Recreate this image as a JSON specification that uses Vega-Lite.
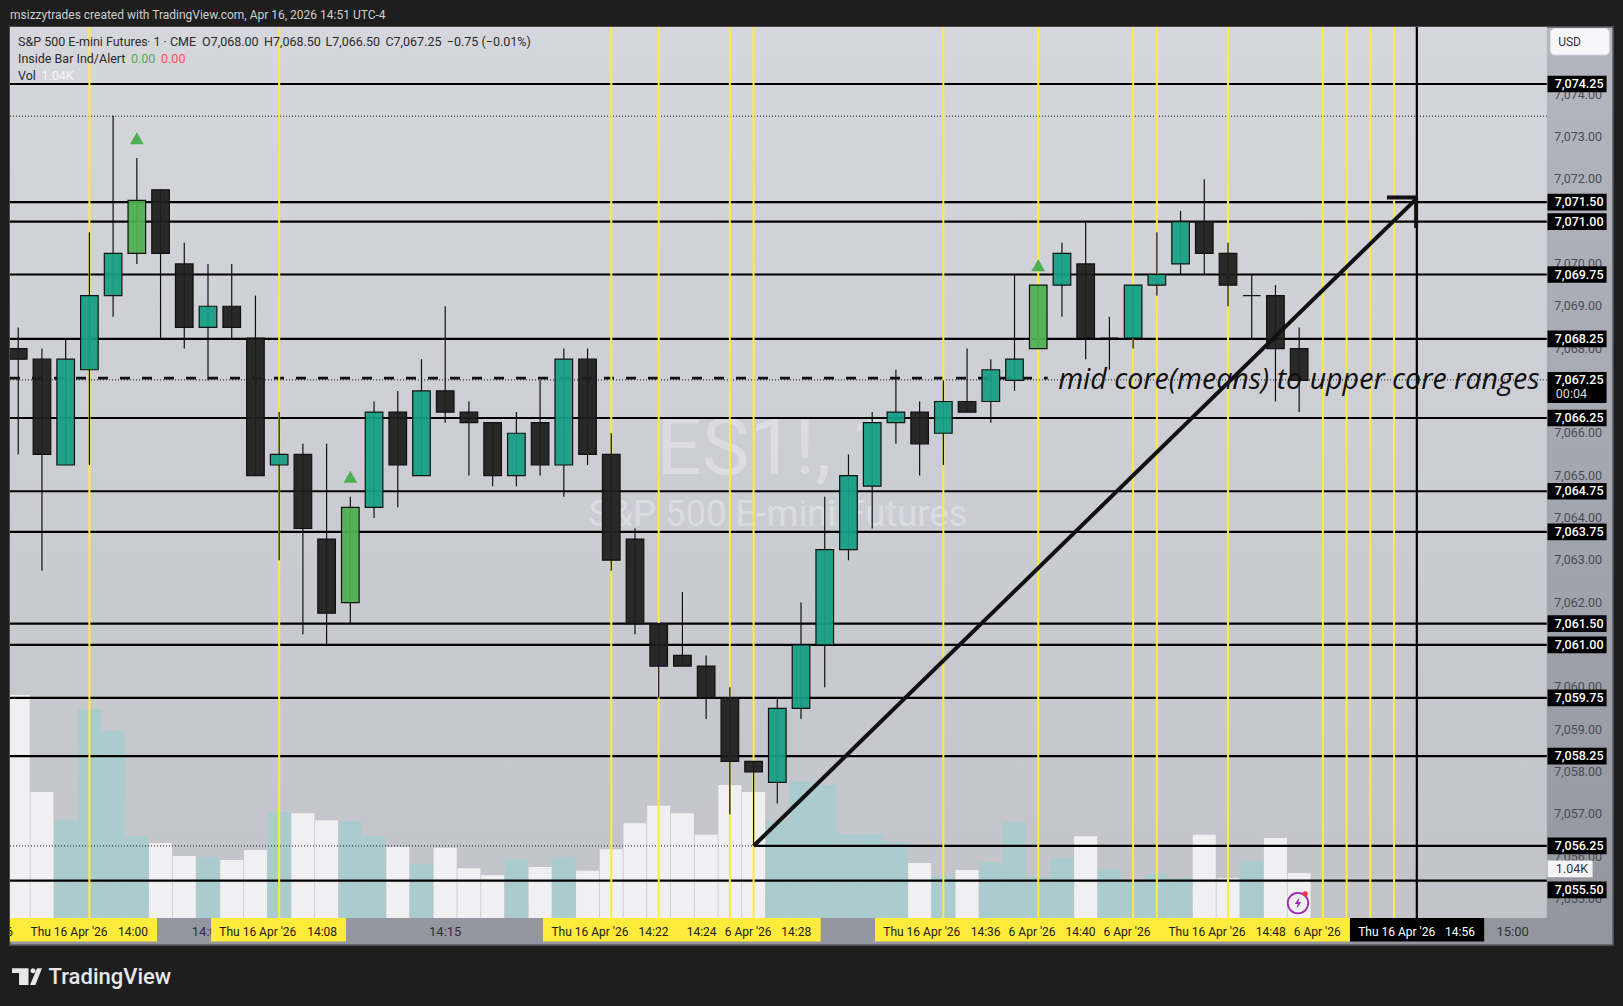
{
"$schema":"https://vega.github.io/schema/vega-lite/v6.json",
"description":"ES1! one minute candles with drawn levels, redrawn from a TradingView snapshot",
"width":1603,"height":918,"autosize":{"type":"none"},
"padding":{"left":10,"top":27,"right":10,"bottom":61},
"background":"#1e1e1e",
"view":{"stroke":"#5a5c62","strokeWidth":1.5,"fill":{"gradient":"linear","x1":0,"y1":0,"x2":0,"y2":1,"stops":[{"offset":0,"color":"#b4b7bf"},{"offset":1,"color":"#93969e"}]}},
"config":{"font":"Roboto"},
"datasets":{
"candles":[
{"m":-3,"o":7068,"h":7068.5,"l":7065.5,"c":7067.75,"kind":"down"},
{"m":-2,"o":7067.75,"h":7068,"l":7062.75,"c":7065.5,"kind":"down"},
{"m":-1,"o":7065.25,"h":7068.25,"l":7065.25,"c":7067.75,"kind":"up"},
{"m":0,"o":7067.5,"h":7070.75,"l":7065.25,"c":7069.25,"kind":"up"},
{"m":1,"o":7069.25,"h":7073.5,"l":7068.75,"c":7070.25,"kind":"up"},
{"m":2,"o":7070.25,"h":7072.5,"l":7070,"c":7071.5,"kind":"signal"},
{"m":3,"o":7071.75,"h":7071.75,"l":7068.25,"c":7070.25,"kind":"down"},
{"m":4,"o":7070,"h":7070.5,"l":7068,"c":7068.5,"kind":"down"},
{"m":5,"o":7068.5,"h":7070,"l":7067.25,"c":7069,"kind":"up"},
{"m":6,"o":7069,"h":7070,"l":7068.25,"c":7068.5,"kind":"down"},
{"m":7,"o":7068.25,"h":7069.25,"l":7065,"c":7065,"kind":"down"},
{"m":8,"o":7065.25,"h":7066.5,"l":7063,"c":7065.5,"kind":"up"},
{"m":9,"o":7065.5,"h":7065.75,"l":7061.25,"c":7063.75,"kind":"down"},
{"m":10,"o":7063.5,"h":7065.75,"l":7061,"c":7061.75,"kind":"down"},
{"m":11,"o":7062,"h":7064.5,"l":7061.5,"c":7064.25,"kind":"signal"},
{"m":12,"o":7064.25,"h":7066.75,"l":7064,"c":7066.5,"kind":"up"},
{"m":13,"o":7066.5,"h":7067,"l":7064.25,"c":7065.25,"kind":"down"},
{"m":14,"o":7065,"h":7067.75,"l":7065,"c":7067,"kind":"up"},
{"m":15,"o":7067,"h":7069,"l":7066.25,"c":7066.5,"kind":"down"},
{"m":16,"o":7066.5,"h":7066.75,"l":7065,"c":7066.25,"kind":"down"},
{"m":17,"o":7066.25,"h":7066.25,"l":7064.75,"c":7065,"kind":"down"},
{"m":18,"o":7065,"h":7066.5,"l":7064.75,"c":7066,"kind":"up"},
{"m":19,"o":7066.25,"h":7067.25,"l":7065,"c":7065.25,"kind":"down"},
{"m":20,"o":7065.25,"h":7068,"l":7064.5,"c":7067.75,"kind":"up"},
{"m":21,"o":7067.75,"h":7068,"l":7065.25,"c":7065.5,"kind":"down"},
{"m":22,"o":7065.5,"h":7066,"l":7062.75,"c":7063,"kind":"down"},
{"m":23,"o":7063.5,"h":7063.75,"l":7061.25,"c":7061.5,"kind":"down"},
{"m":24,"o":7061.5,"h":7061.5,"l":7059.75,"c":7060.5,"kind":"down"},
{"m":25,"o":7060.75,"h":7062.25,"l":7060.5,"c":7060.5,"kind":"down"},
{"m":26,"o":7060.5,"h":7060.75,"l":7059.25,"c":7059.75,"kind":"down"},
{"m":27,"o":7059.75,"h":7060,"l":7057,"c":7058.25,"kind":"down"},
{"m":28,"o":7058.25,"h":7058.25,"l":7056.25,"c":7058,"kind":"down"},
{"m":29,"o":7057.75,"h":7059.75,"l":7057.25,"c":7059.5,"kind":"up"},
{"m":30,"o":7059.5,"h":7062,"l":7059.25,"c":7061,"kind":"up"},
{"m":31,"o":7061,"h":7064.5,"l":7060,"c":7063.25,"kind":"up"},
{"m":32,"o":7063.25,"h":7065.5,"l":7063,"c":7065,"kind":"up"},
{"m":33,"o":7064.75,"h":7066.5,"l":7063.75,"c":7066.25,"kind":"up"},
{"m":34,"o":7066.25,"h":7067.5,"l":7065.75,"c":7066.5,"kind":"up"},
{"m":35,"o":7066.5,"h":7066.75,"l":7065,"c":7065.75,"kind":"down"},
{"m":36,"o":7066,"h":7067.25,"l":7065.25,"c":7066.75,"kind":"up"},
{"m":37,"o":7066.75,"h":7068,"l":7066.5,"c":7066.5,"kind":"down"},
{"m":38,"o":7066.75,"h":7067.75,"l":7066.25,"c":7067.5,"kind":"up"},
{"m":39,"o":7067.25,"h":7069.75,"l":7067,"c":7067.75,"kind":"up"},
{"m":40,"o":7068,"h":7069.5,"l":7068,"c":7069.5,"kind":"signal"},
{"m":41,"o":7069.5,"h":7070.5,"l":7068.75,"c":7070.25,"kind":"up"},
{"m":42,"o":7070,"h":7071,"l":7067.75,"c":7068.25,"kind":"down"},
{"m":43,"o":7068.25,"h":7068.75,"l":7067.5,"c":7068.25,"kind":"down"},
{"m":44,"o":7068.25,"h":7069.5,"l":7068,"c":7069.5,"kind":"up"},
{"m":45,"o":7069.5,"h":7070.75,"l":7069.25,"c":7069.75,"kind":"up"},
{"m":46,"o":7070,"h":7071.25,"l":7069.75,"c":7071,"kind":"up"},
{"m":47,"o":7071,"h":7072,"l":7069.75,"c":7070.25,"kind":"down"},
{"m":48,"o":7070.25,"h":7070.5,"l":7069,"c":7069.5,"kind":"down"},
{"m":49,"o":7069.25,"h":7069.75,"l":7068.25,"c":7069.25,"kind":"down"},
{"m":50,"o":7069.25,"h":7069.5,"l":7066.75,"c":7068,"kind":"down"},
{"m":51,"o":7068,"h":7068.5,"l":7066.5,"c":7067.25,"kind":"down"}
],
"volume":[
{"m":-3,"vol":5.15,"side":"down"},{"m":-2,"vol":2.91,"side":"down"},{"m":-1,"vol":2.26,"side":"up"},{"m":0,"vol":4.83,"side":"up"},{"m":1,"vol":4.32,"side":"up"},{"m":2,"vol":1.89,"side":"up"},{"m":3,"vol":1.73,"side":"down"},{"m":4,"vol":1.43,"side":"down"},{"m":5,"vol":1.41,"side":"up"},{"m":6,"vol":1.34,"side":"down"},{"m":7,"vol":1.57,"side":"down"},{"m":8,"vol":2.45,"side":"up"},{"m":9,"vol":2.42,"side":"down"},{"m":10,"vol":2.26,"side":"down"},{"m":11,"vol":2.24,"side":"up"},{"m":12,"vol":1.89,"side":"up"},{"m":13,"vol":1.64,"side":"down"},{"m":14,"vol":1.25,"side":"up"},{"m":15,"vol":1.62,"side":"down"},{"m":16,"vol":1.15,"side":"down"},{"m":17,"vol":0.99,"side":"down"},{"m":18,"vol":1.36,"side":"up"},{"m":19,"vol":1.18,"side":"down"},{"m":20,"vol":1.41,"side":"up"},{"m":21,"vol":1.09,"side":"down"},{"m":22,"vol":1.59,"side":"down"},{"m":23,"vol":2.19,"side":"down"},{"m":24,"vol":2.59,"side":"down"},{"m":25,"vol":2.42,"side":"down"},{"m":26,"vol":1.92,"side":"down"},{"m":27,"vol":3.07,"side":"down"},{"m":28,"vol":2.91,"side":"down"},{"m":29,"vol":2.24,"side":"up"},{"m":30,"vol":3.16,"side":"up"},{"m":31,"vol":3.07,"side":"up"},{"m":32,"vol":1.94,"side":"up"},{"m":33,"vol":1.94,"side":"up"},{"m":34,"vol":1.76,"side":"up"},{"m":35,"vol":1.27,"side":"down"},{"m":36,"vol":0.97,"side":"up"},{"m":37,"vol":1.11,"side":"down"},{"m":38,"vol":1.29,"side":"up"},{"m":39,"vol":2.22,"side":"up"},{"m":40,"vol":0.95,"side":"up"},{"m":41,"vol":1.39,"side":"up"},{"m":42,"vol":1.89,"side":"down"},{"m":43,"vol":1.13,"side":"up"},{"m":44,"vol":0.83,"side":"up"},{"m":45,"vol":1.02,"side":"up"},{"m":46,"vol":0.92,"side":"up"},{"m":47,"vol":1.92,"side":"down"},{"m":48,"vol":0.92,"side":"down"},{"m":49,"vol":1.32,"side":"up"},{"m":50,"vol":1.85,"side":"down"},{"m":51,"vol":1.04,"side":"down"}
],
"levels":[
{"level":7074.25,"tag":"7,074.25","at":7074.25},{"level":7071.46,"tag":"7,071.50","at":7071.46},{"level":7071,"tag":"7,071.00","at":7071},{"level":7069.75,"tag":"7,069.75","at":7069.75},{"level":7068.23,"tag":"7,068.25","at":7068.23},{"level":7066.36,"tag":"7,066.25","at":7066.36},{"level":7064.63,"tag":"7,064.75","at":7064.63},{"level":7063.67,"tag":"7,063.75","at":7063.67},{"level":7061.5,"tag":"7,061.50","at":7061.5},{"level":7061,"tag":"7,061.00","at":7061},{"level":7059.75,"tag":"7,059.75","at":7059.75},{"level":7058.37,"tag":"7,058.25","at":7058.37},{"level":7055.43,"tag":"7,055.50","at":7055.21}
],
"priceTicks":[{"p":7074,"t":"7,074.00"},{"p":7073,"t":"7,073.00"},{"p":7072,"t":"7,072.00"},{"p":7071,"t":"7,071.00"},{"p":7070,"t":"7,070.00"},{"p":7069,"t":"7,069.00"},{"p":7068,"t":"7,068.00"},{"p":7066,"t":"7,066.00"},{"p":7065,"t":"7,065.00"},{"p":7064,"t":"7,064.00"},{"p":7063,"t":"7,063.00"},{"p":7062,"t":"7,062.00"},{"p":7060,"t":"7,060.00"},{"p":7059,"t":"7,059.00"},{"p":7058,"t":"7,058.00"},{"p":7057,"t":"7,057.00"},{"p":7056,"t":"7,056.00"},{"p":7055,"t":"7,055.00"}],
"yellow":[{"m":0},{"m":8},{"m":22},{"m":24},{"m":27},{"m":28},{"m":36},{"m":40},{"m":44},{"m":45},{"m":48},{"m":52},{"m":53},{"m":54},{"m":55}],
"bands":[{"from":-3.347,"to":2.85,"kind":"mark"},{"from":5.13,"to":10.82,"kind":"mark"},{"from":19.12,"to":30.83,"kind":"mark"},{"from":33.12,"to":53.14,"kind":"mark"},{"from":53.14,"to":58.8,"kind":"cursor"}],
"timeTicks":[{"m":5,"text":"14:05"},{"m":15,"text":"14:15"},{"m":60,"text":"15:00"}],
"timeText":[
{"m":-3.36,"text":"6","kind":"mark"},{"m":-0.86,"text":"Thu 16 Apr '26","kind":"mark"},{"m":1.84,"text":"14:00","kind":"mark"},{"m":7.1,"text":"Thu 16 Apr '26","kind":"mark"},{"m":9.81,"text":"14:08","kind":"mark"},{"m":21.1,"text":"Thu 16 Apr '26","kind":"mark"},{"m":23.78,"text":"14:22","kind":"mark"},{"m":25.81,"text":"14:24","kind":"mark"},{"m":27.77,"text":"6 Apr '26","kind":"mark"},{"m":29.8,"text":"14:28","kind":"mark"},{"m":35.09,"text":"Thu 16 Apr '26","kind":"mark"},{"m":37.78,"text":"14:36","kind":"mark"},{"m":39.74,"text":"6 Apr '26","kind":"mark"},{"m":41.78,"text":"14:40","kind":"mark"},{"m":43.74,"text":"6 Apr '26","kind":"mark"},{"m":47.11,"text":"Thu 16 Apr '26","kind":"mark"},{"m":49.8,"text":"14:48","kind":"mark"},{"m":51.76,"text":"6 Apr '26","kind":"mark"},{"m":55.11,"text":"Thu 16 Apr '26","kind":"cursor"},{"m":57.78,"text":"14:56","kind":"cursor"}
],
"legendText":[
{"m":-3.01,"p":7075.25,"text":"S&P 500 E-mini Futures","kind":"plain"},{"m":2.43,"p":7075.25,"text":"·  1  ·  CME","kind":"plain"},{"m":4.75,"p":7075.25,"text":"O7,068.00","kind":"plain"},{"m":7.36,"p":7075.25,"text":"H7,068.50","kind":"plain"},{"m":9.95,"p":7075.25,"text":"L7,066.50","kind":"plain"},{"m":12.48,"p":7075.25,"text":"C7,067.25","kind":"plain"},{"m":15.07,"p":7075.25,"text":"−0.75 (−0.01%)","kind":"plain"},
{"m":-3.01,"p":7074.84,"text":"Inside Bar Ind/Alert","kind":"plain"},{"m":1.75,"p":7074.84,"text":"0.00","kind":"bull"},{"m":3.02,"p":7074.84,"text":"0.00","kind":"bear"},
{"m":-3.01,"p":7074.44,"text":"Vol","kind":"plain"},{"m":-2.02,"p":7074.44,"text":"1.04K","kind":"vol"}
],
"signals":[{"m":2,"p":7072.97},{"m":11,"p":7064.97},{"m":40,"p":7069.97}],
"solid":[{"from":28,"to":61.44,"p":7056.25}],
"dotted":[{"from":-3.347,"to":28,"p":7056.25},{"from":-3.347,"to":61.44,"p":7073.49},{"from":-3.347,"to":61.44,"p":7067.26}],
"dashed":[{"from":-3.347,"to":40.4,"p":7067.3}]
},
"layer":[
{"layer":[
{"data":{"values":[{"t":1}]},"mark":{"type":"rect","color":{"gradient":"linear","x1":0,"y1":0,"x2":0,"y2":1,"stops":[{"offset":0,"color":"#d6d7dd"},{"offset":1,"color":"#c3c4ca"}]}},
"encoding":{
"x":{"datum":-3.347,"type":"quantitative","scale":{"domain":[-3.347,64.23],"nice":false,"zero":false,"padding":0},"axis":null},
"x2":{"datum":61.44},
"y":{"datum":7075.597,"type":"quantitative","scale":{"domain":[7053.91,7075.597],"nice":false,"zero":false},"axis":null},
"y2":{"datum":7054.55}}},
{"data":{"values":[{"m":28.95,"p":7065.6,"text":"ES1!, 1"}]},"mark":{"type":"text","font":"Roboto","fontSize":80,"color":"#ffffff","opacity":0.3,"align":"center","baseline":"middle"},
"encoding":{"x":{"field":"m","type":"quantitative","axis":null},"y":{"field":"p","type":"quantitative","axis":null},"text":{"field":"text","type":"nominal"}}},
{"data":{"values":[{"m":29.03,"p":7064.08,"text":"S&P 500 E-mini Futures"}]},"mark":{"type":"text","font":"Roboto","fontSize":36.5,"color":"#ffffff","opacity":0.3,"align":"center","baseline":"middle"},
"encoding":{"x":{"field":"m","type":"quantitative","axis":null},"y":{"field":"p","type":"quantitative","axis":null},"text":{"field":"text","type":"nominal"}}}
]},
{"data":{"name":"volume"},"mark":{"type":"bar","size":23,"orient":"vertical","clip":true},
"encoding":{
"x":{"field":"m","type":"quantitative","axis":null},
"y":{"field":"vol","type":"quantitative","axis":null,"scale":{"domain":[-0.624,20.58],"nice":false,"zero":false}},
"y2":{"datum":0},
"color":{"field":"side","type":"nominal","legend":null,"scale":{"domain":["up","down"],"range":["#aaccce","#f0f0f2"]}}}},
{"layer":[
{"data":{"name":"levels"},"mark":{"type":"rule","color":"#000000","strokeWidth":2.2},
"encoding":{"y":{"field":"level","type":"quantitative","axis":null,"scale":{"domain":[7053.91,7075.597],"nice":false,"zero":false}},"x":{"datum":-3.347,"type":"quantitative","axis":null},"x2":{"datum":61.44}}},
{"data":{"name":"solid"},"mark":{"type":"rule","color":"#000000","strokeWidth":2.2},
"encoding":{"y":{"field":"p","type":"quantitative","axis":null},"x":{"field":"from","type":"quantitative","axis":null},"x2":{"field":"to"}}},
{"data":{"name":"dotted"},"mark":{"type":"rule","color":"#111111","strokeWidth":1,"strokeDash":[1,2]},
"encoding":{"y":{"field":"p","type":"quantitative","axis":null},"x":{"field":"from","type":"quantitative","axis":null},"x2":{"field":"to"}}},
{"data":{"name":"dashed"},"mark":{"type":"rule","color":"#111111","strokeWidth":2.8,"strokeDash":[10,12]},
"encoding":{"y":{"field":"p","type":"quantitative","axis":null},"x":{"field":"from","type":"quantitative","axis":null},"x2":{"field":"to"}}},
{"data":{"name":"yellow"},"mark":{"type":"rule","color":"#ffeb3b","strokeWidth":2},
"encoding":{"x":{"field":"m","type":"quantitative","axis":null},"y":{"datum":7075.597,"type":"quantitative","axis":null},"y2":{"datum":7054.55}}},
{"data":{"name":"candles"},"mark":{"type":"rule","color":"#111111","strokeWidth":1.2},
"encoding":{"x":{"field":"m","type":"quantitative","axis":null},"y":{"field":"h","type":"quantitative","axis":null},"y2":{"field":"l"}}},
{"data":{"name":"candles"},"mark":{"type":"bar","size":17.6,"orient":"vertical","stroke":"#111111","strokeWidth":1.2,"fillOpacity":0.94,"clip":true},
"encoding":{"x":{"field":"m","type":"quantitative","axis":null},"y":{"field":"o","type":"quantitative","axis":null},"y2":{"field":"c"},
"fill":{"field":"kind","type":"nominal","legend":null,"scale":{"domain":["up","down","signal"],"range":["#169e84","#1e1e1e","#4caf50"]}}}},
{"data":{"name":"signals"},"mark":{"type":"point","shape":"triangle-up","filled":true,"size":190,"color":"#4caf50","opacity":1},
"encoding":{"x":{"field":"m","type":"quantitative","axis":null},"y":{"field":"p","type":"quantitative","axis":null}}},
{"data":{"values":[{"m":55.96}]},"mark":{"type":"rule","color":"#000000","strokeWidth":2.2},
"encoding":{"x":{"field":"m","type":"quantitative","axis":null},"y":{"datum":7075.597,"type":"quantitative","axis":null},"y2":{"datum":7054.55}}},
{"data":{"values":[{"x0":28,"y0":7056.25,"x1":55.96,"y1":7071.55},{"x0":54.7,"y0":7071.57,"x1":55.96,"y1":7071.57},{"x0":55.93,"y0":7071.57,"x1":55.93,"y1":7070.85}]},"mark":{"type":"rule","color":"#111111","strokeWidth":4},
"encoding":{"x":{"field":"x0","type":"quantitative","axis":null},"x2":{"field":"x1"},"y":{"field":"y0","type":"quantitative","axis":null},"y2":{"field":"y1"}}},
{"data":{"values":[{"m":40.84,"p":7067.25,"text":"mid core(means) to upper core ranges"}]},"mark":{"type":"text","font":"Open Sans","fontStyle":"italic","fontSize":28.6,"color":"#111111","align":"left","baseline":"middle"},
"encoding":{"x":{"field":"m","type":"quantitative","axis":null},"y":{"field":"p","type":"quantitative","axis":null},"text":{"field":"text","type":"nominal"}}},
{"data":{"name":"timeTicks"},"mark":{"type":"text","font":"Roboto","fontSize":13,"color":"#2e3036","align":"center","baseline":"middle"},
"encoding":{"x":{"field":"m","type":"quantitative","axis":null},"y":{"datum":7054.21,"type":"quantitative","axis":null},"text":{"field":"text","type":"nominal"}}},
{"data":{"name":"bands"},"mark":{"type":"rect","clip":true},
"encoding":{"x":{"field":"from","type":"quantitative","axis":null},"x2":{"field":"to"},"y":{"datum":7054.55,"type":"quantitative","axis":null},"y2":{"datum":7053.99},
"color":{"field":"kind","type":"nominal","legend":null,"scale":{"domain":["mark","cursor"],"range":["#ffeb3b","#000000"]}}}},
{"data":{"name":"timeText"},"mark":{"type":"text","font":"Roboto","fontSize":12,"align":"center","baseline":"middle","clip":true},
"encoding":{"x":{"field":"m","type":"quantitative","axis":null},"y":{"datum":7054.21,"type":"quantitative","axis":null},"text":{"field":"text","type":"nominal"},
"color":{"field":"kind","type":"nominal","legend":null,"scale":{"domain":["mark","cursor"],"range":["#1a1a1a","#ffffff"]}}}},
{"data":{"values":[{"m":-3.347,"p":7075.89,"text":"msizzytrades created with TradingView.com, Apr 16, 2026 14:51 UTC-4"}]},"mark":{"type":"text","font":"Roboto","fontSize":12,"color":"#cfcfcf","align":"left","baseline":"middle"},
"encoding":{"x":{"field":"m","type":"quantitative","axis":null},"y":{"field":"p","type":"quantitative","axis":null},"text":{"field":"text","type":"nominal"}}},
{"data":{"name":"legendText"},"mark":{"type":"text","font":"Roboto","fontSize":12.5,"align":"left","baseline":"middle"},
"encoding":{"x":{"field":"m","type":"quantitative","axis":null},"y":{"field":"p","type":"quantitative","axis":null},"text":{"field":"text","type":"nominal"},
"color":{"field":"kind","type":"nominal","legend":null,"scale":{"domain":["plain","bull","bear","vol"],"range":["#2a2a2a","#4caf50","#ff5252","#f5f5f5"]}}}},
{"data":{"name":"priceTicks"},"mark":{"type":"text","font":"Roboto","fontSize":12.5,"color":"#4a4c52","align":"right","baseline":"middle"},
"encoding":{"x":{"datum":63.77,"type":"quantitative","axis":null},"y":{"field":"p","type":"quantitative","axis":null},"text":{"field":"t","type":"nominal"}}},
{"data":{"name":"levels"},"mark":{"type":"rule","strokeWidth":16.7,"color":"#000000"},
"encoding":{"x":{"datum":61.47,"type":"quantitative","axis":null},"x2":{"datum":63.96},"y":{"field":"at","type":"quantitative","axis":null}}},
{"data":{"values":[{"p":7056.25}]},"mark":{"type":"rule","strokeWidth":16.7,"color":"#000000"},
"encoding":{"x":{"datum":61.47,"type":"quantitative","axis":null},"x2":{"datum":63.96},"y":{"field":"p","type":"quantitative","axis":null}}},
{"data":{"values":[{"p":7067.08}]},"mark":{"type":"rule","strokeWidth":31,"color":"#000000"},
"encoding":{"x":{"datum":61.47,"type":"quantitative","axis":null},"x2":{"datum":63.96},"y":{"field":"p","type":"quantitative","axis":null}}},
{"data":{"values":[{"p":7055.71}]},"mark":{"type":"rule","strokeWidth":16.7,"color":"#f5f5f7"},
"encoding":{"x":{"datum":61.47,"type":"quantitative","axis":null},"x2":{"datum":63.37},"y":{"field":"p","type":"quantitative","axis":null}}},
{"data":{"name":"levels"},"mark":{"type":"text","font":"Roboto","fontSize":12.5,"fontWeight":500,"color":"#ffffff","align":"center","baseline":"middle"},
"encoding":{"x":{"datum":62.8,"type":"quantitative","axis":null},"y":{"field":"at","type":"quantitative","axis":null},"text":{"field":"tag","type":"nominal"}}},
{"data":{"values":[{"p":7056.25,"t":"7,056.25"},{"p":7067.25,"t":"7,067.25"}]},"mark":{"type":"text","font":"Roboto","fontSize":12.5,"fontWeight":500,"color":"#ffffff","align":"center","baseline":"middle"},
"encoding":{"x":{"datum":62.8,"type":"quantitative","axis":null},"y":{"field":"p","type":"quantitative","axis":null},"text":{"field":"t","type":"nominal"}}},
{"data":{"values":[{"m":61.82,"p":7066.92,"t":"00:04"}]},"mark":{"type":"text","font":"Roboto","fontSize":12.5,"color":"#d8d8d8","align":"left","baseline":"middle"},
"encoding":{"x":{"field":"m","type":"quantitative","axis":null},"y":{"field":"p","type":"quantitative","axis":null},"text":{"field":"t","type":"nominal"}}},
{"data":{"values":[{"m":62.5,"p":7055.71,"t":"1.04K"}]},"mark":{"type":"text","font":"Roboto","fontSize":12.5,"color":"#333333","align":"center","baseline":"middle"},
"encoding":{"x":{"field":"m","type":"quantitative","axis":null},"y":{"field":"p","type":"quantitative","axis":null},"text":{"field":"t","type":"nominal"}}},
{"data":{"values":[{"t":1}]},"mark":{"type":"rect","color":"#f7f7f9","stroke":"#e2e3e8","cornerRadius":4},
"encoding":{"x":{"datum":61.6,"type":"quantitative","axis":null},"x2":{"datum":64.07},"y":{"datum":7075.56,"type":"quantitative","axis":null},"y2":{"datum":7074.94}}},
{"data":{"values":[{"m":62.4,"p":7075.25,"t":"USD"}]},"mark":{"type":"text","font":"Roboto","fontSize":12,"color":"#333333","align":"center","baseline":"middle"},
"encoding":{"x":{"field":"m","type":"quantitative","axis":null},"y":{"field":"p","type":"quantitative","axis":null},"text":{"field":"t","type":"nominal"}}},
{"data":{"values":[{"m":50.95,"p":7054.9}]},"mark":{"type":"point","shape":"circle","size":420,"filled":false,"stroke":"#9c27b0","strokeWidth":1.8,"opacity":1},
"encoding":{"x":{"field":"m","type":"quantitative","axis":null},"y":{"field":"p","type":"quantitative","axis":null}}},
{"data":{"values":[{"m":50.95,"p":7054.9}]},"mark":{"type":"point","shape":"M0.25,-1 L-0.6,0.15 H-0.05 L-0.25,1 L0.6,-0.15 H0.05 Z","size":120,"filled":true,"color":"#9c27b0","opacity":1},
"encoding":{"x":{"field":"m","type":"quantitative","axis":null},"y":{"field":"p","type":"quantitative","axis":null}}},
{"data":{"values":[{"m":51.25,"p":7055.12}]},"mark":{"type":"point","shape":"circle","size":28,"filled":true,"color":"#f23645","opacity":1},
"encoding":{"x":{"field":"m","type":"quantitative","axis":null},"y":{"field":"p","type":"quantitative","axis":null}}},
{"data":{"values":[{"m":-2.63,"p":7053.15}]},"mark":{"type":"point","shape":"M-1,-0.6 H0.1 V0.53 H-0.53 V-0.27 H-1 Z M0.23,-0.43 a0.17,0.17 0 1,0 0.34,0 a0.17,0.17 0 1,0 -0.34,0 Z M0.67,-0.6 H1 L0.56,0.53 H0.2 Z","size":900,"filled":true,"color":"#e8e8e8","opacity":1},
"encoding":{"x":{"field":"m","type":"quantitative","axis":null},"y":{"field":"p","type":"quantitative","axis":null}}},
{"data":{"values":[{"m":-1.72,"p":7053.15,"t":"TradingView"}]},"mark":{"type":"text","font":"Roboto","fontSize":22,"fontWeight":500,"color":"#e8e8e8","align":"left","baseline":"middle"},
"encoding":{"x":{"field":"m","type":"quantitative","axis":null},"y":{"field":"p","type":"quantitative","axis":null},"text":{"field":"t","type":"nominal"}}}
],"resolve":{"scale":{"color":"independent"}}}
],
"resolve":{"scale":{"y":"independent","color":"independent"}}
}
